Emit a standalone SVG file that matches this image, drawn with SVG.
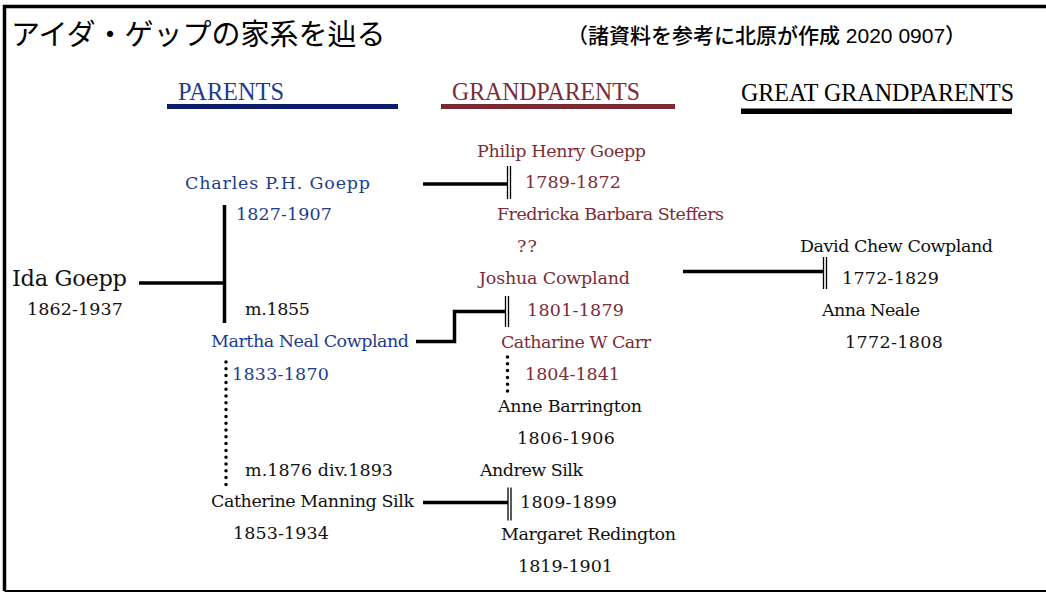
<svg xmlns="http://www.w3.org/2000/svg" width="1046" height="593" viewBox="0 0 1046 593">
<style>
.t{font-family:"DejaVu Serif","Liberation Serif",serif;font-size:17.5px;fill:#111}
.big{font-size:22.5px}
.b{fill:#1d3c8f}
.m{fill:#7b2c38}
.h{font-family:"Liberation Serif",serif;font-size:26px}
.ln{stroke:#000;stroke-width:3.5;fill:none}
.dbl{stroke:#000;stroke-width:1.3;fill:none}
.dot{stroke:#000;stroke-width:3.5;stroke-linecap:round;stroke-dasharray:0 6.8;fill:none}
</style>
<rect width="1046" height="593" fill="#fff"/>
<g id="frame">
<path d="M1046 6.5 H4.5 V591" stroke="#000" stroke-width="3.5" fill="none"/>
<path d="M4.5 591 H1046" stroke="#000" stroke-width="2" fill="none"/>
</g>
<g id="title">
<text x="11" y="44.5" font-family="'Noto Sans CJK JP',sans-serif" font-size="29" fill="#000">アイダ・ゲップの家系を辿る</text>
<text x="567" y="43" font-family="'Liberation Sans','Noto Sans CJK JP',sans-serif" font-size="21" font-weight="500" fill="#000">（諸資料を参考に北原が作成 2020 0907）</text>
</g>
<g id="headers">
<text class="h" x="178" y="100" fill="#1d3c8f" textLength="106" lengthAdjust="spacingAndGlyphs">PARENTS</text>
<rect x="167" y="104" width="231" height="5" fill="#0b1d6b"/>
<text class="h" x="452" y="100" fill="#7b2c38" textLength="188" lengthAdjust="spacingAndGlyphs">GRANDPARENTS</text>
<rect x="441" y="104" width="234" height="5" fill="#7a2832"/>
<text class="h" x="741" y="101" fill="#000" textLength="273" lengthAdjust="spacingAndGlyphs">GREAT GRANDPARENTS</text>
<rect x="741" y="108.5" width="271" height="5.5" fill="#000"/>
</g>
<g id="connectors">
<path class="ln" d="M139 283 H224.5 M224.5 205 V323"/>
<path class="ln" d="M423 184 H507.5"/>
<path class="dbl" d="M507.5 166 V199 M510.5 166 V199"/>
<path class="ln" d="M416 341.5 H454.5 V311.5 H505.5"/>
<path class="dbl" d="M505.5 296 V327 M508.5 296 V327"/>
<path class="ln" d="M423 502.5 H508"/>
<path class="dbl" d="M508 487.5 V520.5 M511 487.5 V520.5"/>
<path class="ln" d="M683 271.5 H823.5"/>
<path class="dbl" d="M823.5 257 V289 M826.5 257 V289"/>
<path class="dot" d="M226 362 V486"/>
<path class="dot" d="M507.5 357 V394"/>
</g>
<g id="ida">
<text class="t big" x="12" y="286" textLength="115">Ida Goepp</text>
<text class="t" x="27" y="315" textLength="96">1862-1937</text>
</g>
<g id="charles">
<text class="t b" x="185" y="189" textLength="185">Charles P.H. Goepp</text>
<text class="t b" x="236" y="220" textLength="96">1827-1907</text>
</g>
<g id="marriage1"><text class="t" x="245" y="315" textLength="65">m.1855</text></g>
<g id="martha">
<text class="t b" x="211" y="347" textLength="198">Martha Neal Cowpland</text>
<text class="t b" x="232" y="380" textLength="97">1833-1870</text>
</g>
<g id="marriage2"><text class="t" x="245" y="476" textLength="148">m.1876 div.1893</text></g>
<g id="catherine">
<text class="t" x="211" y="507" textLength="203">Catherine Manning Silk</text>
<text class="t" x="233" y="539" textLength="96">1853-1934</text>
</g>
<g id="philip">
<text class="t m" x="477" y="157" textLength="169">Philip Henry Goepp</text>
<text class="t m" x="525" y="188" textLength="96">1789-1872</text>
</g>
<g id="fredricka">
<text class="t m" x="497" y="220" textLength="227">Fredricka Barbara Steffers</text>
<text class="t m" x="517" y="252" textLength="20">??</text>
</g>
<g id="joshua">
<text class="t m" x="479" y="284" textLength="151">Joshua Cowpland</text>
<text class="t m" x="527" y="316" textLength="97">1801-1879</text>
</g>
<g id="catharine">
<text class="t m" x="501" y="348" textLength="150">Catharine W Carr</text>
<text class="t m" x="525" y="380" textLength="95">1804-1841</text>
</g>
<g id="anne">
<text class="t" x="498" y="412" textLength="144">Anne Barrington</text>
<text class="t" x="517" y="444" textLength="98">1806-1906</text>
</g>
<g id="andrew">
<text class="t" x="480" y="476" textLength="103">Andrew Silk</text>
<text class="t" x="520" y="508" textLength="97">1809-1899</text>
</g>
<g id="margaret">
<text class="t" x="501" y="540" textLength="175">Margaret Redington</text>
<text class="t" x="518" y="572" textLength="95">1819-1901</text>
</g>
<g id="david">
<text class="t" x="800" y="252" textLength="193">David Chew Cowpland</text>
<text class="t" x="842" y="284" textLength="97">1772-1829</text>
</g>
<g id="anna">
<text class="t" x="822" y="316" textLength="98">Anna Neale</text>
<text class="t" x="845" y="348" textLength="98">1772-1808</text>
</g>
</svg>
